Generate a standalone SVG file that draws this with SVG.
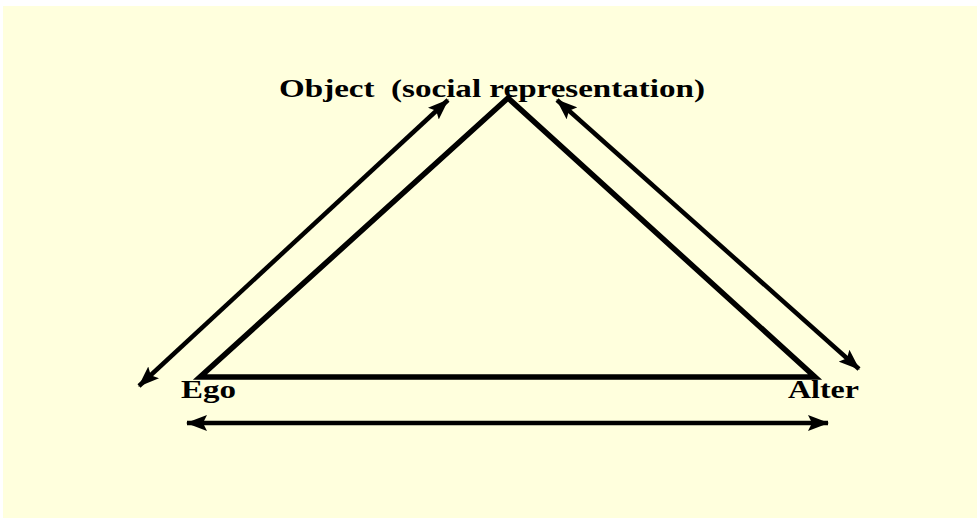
<svg xmlns="http://www.w3.org/2000/svg" width="977" height="520" viewBox="0 0 977 520">
<style>
.lbl{font-family:"Liberation Serif","Times New Roman",serif;font-weight:bold;fill:#000;font-size:25px}
.con{stroke:#000;stroke-width:4.5;fill:none;marker-start:url(#ah);marker-end:url(#ah)}
</style>
<defs>
<marker id="ah" viewBox="0 0 21 16" refX="20" refY="8" markerWidth="21" markerHeight="16" orient="auto-start-reverse" markerUnits="userSpaceOnUse">
<path d="M0,0 L21,8 L0,16 L4,8 Z" fill="#000"/>
</marker>
</defs>
<rect x="3" y="6" width="974" height="512" fill="#FFFFDD"/>
<g id="triangle">
<polygon points="508,98 200,377 815,377" fill="none" stroke="#000" stroke-width="5.5" stroke-linejoin="miter"/>
</g>
<g id="object"><text class="lbl" x="279" y="97" textLength="426" lengthAdjust="spacingAndGlyphs" xml:space="preserve">Object  (social representation)</text></g>
<g id="ego"><text class="lbl" x="181" y="398" textLength="55" lengthAdjust="spacingAndGlyphs">Ego</text></g>
<g id="alter"><text class="lbl" x="788" y="398" textLength="71" lengthAdjust="spacingAndGlyphs">Alter</text></g>
<g id="connectors">
<line class="con" x1="139" y1="386" x2="448" y2="100"/>
<line class="con" x1="557" y1="100" x2="859" y2="369"/>
<line class="con" x1="187" y1="423" x2="828" y2="423"/>
</g>
</svg>
